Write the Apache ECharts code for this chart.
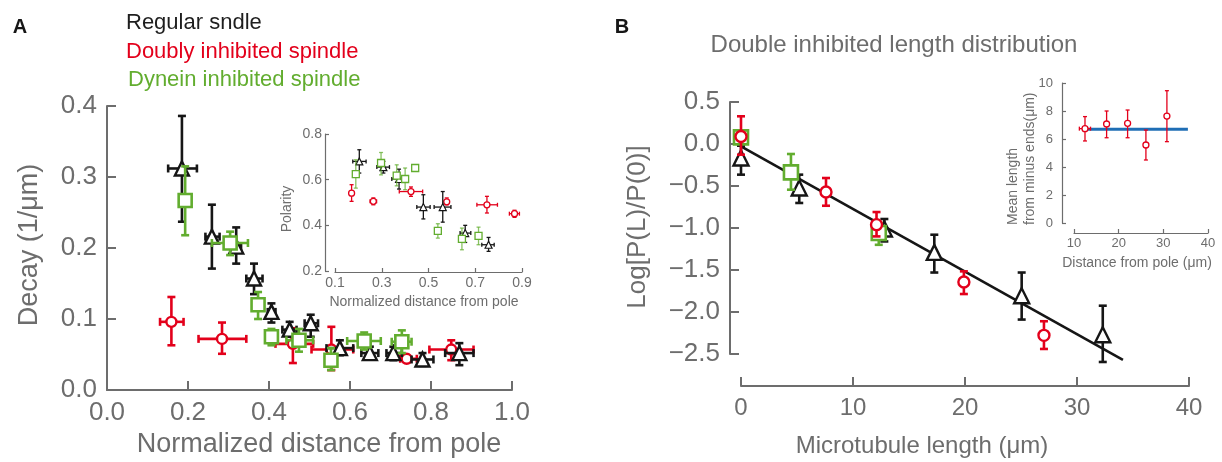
<!DOCTYPE html>
<html>
<head>
<meta charset="utf-8">
<script src="https://cdn.jsdelivr.net/npm/echarts@6/dist/echarts.min.js"></script>
<style>html,body{margin:0;padding:0;background:#fff}#c{width:1222px;height:462px}</style>
</head>
<body>
<div id="c"></div>
<script>
// ---------- Panel A (main): Decay vs normalized distance ----------
const aRegX   = [0.185,0.259,0.319,0.363,0.406,0.451,0.503,0.575,0.649,0.707,0.779,0.870];
const aRegY   = [0.312,0.216,0.202,0.157,0.110,0.085,0.094,0.059,0.052,0.052,0.043,0.052];
const aRegYLo = [0.237,0.171,0.178,0.135,0.095,0.075,0.075,0.049,0.045,0.042,0.034,0.035];
const aRegYHi = [0.386,0.261,0.229,0.178,0.122,0.096,0.106,0.070,0.061,0.061,0.052,0.066];
const aRegXLo = [0.151,0.243,0.306,0.344,0.397,0.433,0.488,0.542,0.628,0.690,0.752,0.835];
const aRegXHi = [0.222,0.278,0.331,0.384,0.416,0.468,0.521,0.608,0.670,0.728,0.806,0.905];

const aDynX   = [0.193,0.304,0.373,0.406,0.474,0.553,0.635,0.728];
const aDynY   = [0.267,0.207,0.120,0.075,0.070,0.042,0.069,0.068];
const aDynYLo = [0.218,0.190,0.100,0.063,0.054,0.028,0.057,0.052];
const aDynYHi = [0.315,0.223,0.138,0.086,0.086,0.059,0.081,0.084];
const aDynXLo = [0.193,0.259,0.373,0.406,0.443,0.553,0.593,0.703];
const aDynXHi = [0.193,0.348,0.373,0.406,0.509,0.553,0.676,0.752];

const aDblX   = [0.159,0.284,0.459,0.554,0.740,0.850];
const aDblY   = [0.096,0.072,0.065,0.057,0.044,0.057];
const aDblYLo = [0.063,0.051,0.038,0.028,0.044,0.042];
const aDblYHi = [0.131,0.095,0.087,0.089,0.044,0.070];
const aDblXLo = [0.131,0.226,0.416,0.505,0.724,0.796];
const aDblXHi = [0.189,0.344,0.509,0.608,0.765,0.905];

// ---------- Panel A (inset): Polarity ----------
const iRegX   = [0.204,0.307,0.374,0.478,0.561,0.657,0.757];
const iRegY   = [0.680,0.655,0.603,0.480,0.480,0.366,0.315];
const iRegYLo = [0.629,0.629,0.559,0.428,0.414,0.325,0.286];
const iRegYHi = [0.731,0.680,0.646,0.534,0.548,0.400,0.347];
const iRegXLo = [0.176,0.279,0.343,0.450,0.524,0.635,0.728];
const iRegXHi = [0.233,0.333,0.411,0.507,0.596,0.681,0.781];

const iDynX   = [0.189,0.297,0.364,0.400,0.443,0.540,0.643,0.714];
const iDynY   = [0.624,0.673,0.618,0.603,0.651,0.376,0.341,0.354];
const iDynYLo = [0.563,0.621,0.573,0.556,0.640,0.344,0.293,0.315];
const iDynYHi = [0.687,0.719,0.665,0.651,0.660,0.407,0.388,0.392];

const iDblX   = [0.171,0.264,0.425,0.578,0.750,0.868];
const iDblY   = [0.541,0.505,0.548,0.503,0.490,0.451];
const iDblYLo = [0.505,0.490,0.527,0.490,0.454,0.435];
const iDblYHi = [0.578,0.520,0.568,0.520,0.527,0.466];
const iDblXLo = [0.171,0.250,0.375,0.570,0.707,0.846];
const iDblXHi = [0.171,0.278,0.475,0.586,0.795,0.889];
const iXTicks = [0.1,0.3,0.5,0.7,0.9];

// ---------- Panel B (main): Log[P(L)/P(0)] vs length ----------
const bRegX   = [0,5.2,12.8,17.26,25.06,32.3];
const bRegY   = [-0.167,-0.524,-1.012,-1.29,-1.806,-2.27];
const bRegYLo = [-0.365,-0.702,-1.16,-1.53,-2.09,-2.595];
const bRegYHi = [-0.02,-0.365,-0.893,-1.08,-1.53,-1.925];

const bDynX   = [0,4.46,12.3];
const bDynY   = [0.079,-0.338,-1.06];
const bDynYLo = [0.02,-0.544,-1.2];
const bDynYHi = [0.12,-0.119,-0.94];

const bDblX   = [0,7.59,12.1,19.9,27.05];
const bDblY   = [0.09,-0.571,-0.96,-1.643,-2.278];
const bDblYLo = [-0.127,-0.735,-1.1,-1.786,-2.44];
const bDblYHi = [0.33,-0.405,-0.81,-1.516,-2.11];

const bFitX = [0,34.1];
const bFitY = [-0.029,-2.57];

// ---------- Panel B (inset): mean length vs distance ----------
const jDblX   = [12.46,17.3,22.0,26.1,30.8];
const jDblY   = [6.74,7.07,7.12,5.57,7.64];
const jDblYLo = [5.86,6.09,6.09,4.5,5.81];
const jDblYHi = [7.6,8.0,8.07,6.64,9.45];
const jDblXLo = [11.2,17.3,22.0,26.1,30.8];
const jDblXHi = [13.7,17.3,22.0,26.1,30.8];
const jMeanX = [12.5,35.5];
const jMeanY = [6.7,6.7];

// ---------- styling ----------
const FONT = "'Liberation Sans', Arial, Helvetica, sans-serif";
const GRAY = '#6d6d6d';
const RED = '#e3001b';
const GREEN = '#62ad2f';
const BLACK = '#161616';
const BLUE = '#1f6eb5';

function rows(x, y, xlo, xhi, ylo, yhi) {
  return x.map((v, i) => [v, y[i], xlo ? xlo[i] : v, xhi ? xhi[i] : v, ylo ? ylo[i] : y[i], yhi ? yhi[i] : y[i]]);
}
function pts(x, y) { return x.map((v, i) => [v, y[i]]); }

function errSeries(data, color, lw, cap, ax, z, opacity) {
  return {
    type: 'custom', xAxisIndex: ax, yAxisIndex: ax, z: z, silent: true, clip: false,
    data: data, encode: { x: 0, y: 1 },
    renderItem: function (params, api) {
      const x = api.value(0), y = api.value(1);
      const xl = api.value(2), xh = api.value(3), yl = api.value(4), yh = api.value(5);
      const st = { stroke: color, lineWidth: lw, opacity: opacity == null ? 1 : opacity };
      const ch = [];
      const L = (x1, y1, x2, y2) => ch.push({ type: 'line', shape: { x1, y1, x2, y2 }, style: st });
      if (yl !== yh) {
        const a = api.coord([x, yl]), b = api.coord([x, yh]);
        L(a[0], a[1], b[0], b[1]);
        L(a[0] - cap, a[1], a[0] + cap, a[1]);
        L(b[0] - cap, b[1], b[0] + cap, b[1]);
      }
      if (xl !== xh) {
        const a = api.coord([xl, y]), b = api.coord([xh, y]);
        L(a[0], a[1], b[0], b[1]);
        L(a[0], a[1] - cap, a[0], a[1] + cap);
        L(b[0], b[1] - cap, b[0], b[1] + cap);
      }
      return { type: 'group', children: ch };
    }
  };
}
function markSeries(data, symbol, size, color, bw, ax, z) {
  return {
    type: 'scatter', xAxisIndex: ax, yAxisIndex: ax, z: z, silent: true, clip: false,
    symbol: symbol, symbolSize: size, data: data,
    itemStyle: { color: '#ffffff', borderColor: color, borderWidth: bw, opacity: 1 }
  };
}
function fmt1(v) {
  if (Math.abs(v) < 1e-9) return '0.0';
  return v.toFixed(1).replace('-', '\u2212');
}
function axisBase(fs, lw, tl, margin) {
  return {
    type: 'value',
    splitLine: { show: false },
    axisLine: { show: true, onZero: false, lineStyle: { color: GRAY, width: lw } },
    axisTick: { show: true, inside: true, length: tl, lineStyle: { color: GRAY, width: lw } },
    axisLabel: { color: GRAY, fontSize: fs, fontFamily: FONT, margin: margin }
  };
}
function merge(a, b) {
  const o = Object.assign({}, a, b);
  ['axisLine', 'axisTick', 'axisLabel'].forEach(k => { if (b[k]) o[k] = Object.assign({}, a[k], b[k]); });
  return o;
}

const xAxes = [
  merge(axisBase(26, 2, 9, 10), { gridIndex: 0, min: 0, max: 1, interval: 0.2, axisLabel: { formatter: fmt1 } }),
  merge(axisBase(14, 1.2, 4, 4), { gridIndex: 1, min: 0.1, max: 0.9, offset: 1,
    axisTick: { customValues: iXTicks }, axisLabel: { customValues: iXTicks, formatter: fmt1 } }),
  merge(axisBase(24, 2, 9, 10), { gridIndex: 2, min: 0, max: 40, interval: 10, offset: 32 }),
  merge(axisBase(13, 1.2, 4, 4), { gridIndex: 3, min: 10, max: 40, interval: 10, offset: 10 })
];
const yAxes = [
  merge(axisBase(26, 2, 9, 10), { gridIndex: 0, min: 0, max: 0.4, interval: 0.1, axisLabel: { formatter: fmt1 } }),
  merge(axisBase(14, 1.2, 4, 3), { gridIndex: 1, min: 0.2, max: 0.8, interval: 0.2, offset: 10, axisLabel: { formatter: fmt1 } }),
  merge(axisBase(26, 2, 9, 10), { gridIndex: 2, min: -2.5, max: 0.5, interval: 0.5, offset: 11, axisLabel: { formatter: fmt1 } }),
  merge(axisBase(13, 1.2, 4, 9), { gridIndex: 3, min: 0, max: 10, interval: 2, offset: 12 })
];

function txt(x, y, text, size, color, opts) {
  opts = opts || {};
  return {
    type: 'text', x: x, y: y, rotation: opts.rot || 0, silent: true,
    style: {
      text: text, fill: color, fontSize: size, fontFamily: FONT,
      fontWeight: opts.bold ? 'bold' : 'normal',
      align: opts.align || 'center', verticalAlign: opts.va || 'middle',
      lineHeight: opts.lh || undefined
    }
  };
}

const series = [
  // A main: red, black, green
  errSeries(rows(aDblX, aDblY, aDblXLo, aDblXHi, aDblYLo, aDblYHi), RED, 2.6, 4, 0, 2),
  markSeries(pts(aDblX, aDblY), 'circle', 10, RED, 2.4, 0, 3),
  errSeries(rows(aRegX, aRegY, aRegXLo, aRegXHi, aRegYLo, aRegYHi), BLACK, 2.6, 4, 0, 4),
  markSeries(pts(aRegX, aRegY), 'triangle', 14, BLACK, 2.4, 0, 5),
  errSeries(rows(aDynX, aDynY, aDynXLo, aDynXHi, aDynYLo, aDynYHi), GREEN, 2.6, 4, 0, 6),
  markSeries(pts(aDynX, aDynY), 'rect', 13, GREEN, 2.6, 0, 7),
  // A inset
  errSeries(rows(iDblX, iDblY, iDblXLo, iDblXHi, iDblYLo, iDblYHi), RED, 1.3, 2, 1, 2),
  markSeries(pts(iDblX, iDblY), 'circle', 6, RED, 1.3, 1, 3),
  errSeries(rows(iRegX, iRegY, iRegXLo, iRegXHi, iRegYLo, iRegYHi), BLACK, 1.3, 2, 1, 4),
  markSeries(pts(iRegX, iRegY), 'triangle', 7, BLACK, 1.2, 1, 5),
  errSeries(rows(iDynX, iDynY, null, null, iDynYLo, iDynYHi), GREEN, 1.3, 2, 1, 6, 0.75),
  markSeries(pts(iDynX, iDynY), 'rect', 7, GREEN, 1.3, 1, 7),
  // B main: fit line, black, green, red
  { type: 'line', xAxisIndex: 2, yAxisIndex: 2, z: 1, silent: true, symbol: 'none', clip: false,
    data: pts(bFitX, bFitY), lineStyle: { color: BLACK, width: 2.6 } },
  errSeries(rows(bRegX, bRegY, null, null, bRegYLo, bRegYHi), BLACK, 2.6, 4, 2, 2),
  markSeries(pts(bRegX, bRegY), 'triangle', 15, BLACK, 2.4, 2, 3),
  errSeries(rows(bDynX, bDynY, null, null, bDynYLo, bDynYHi), GREEN, 2.6, 4, 2, 4),
  markSeries(pts(bDynX, bDynY), 'rect', 14, GREEN, 2.6, 2, 5),
  errSeries(rows(bDblX, bDblY, null, null, bDblYLo, bDblYHi), RED, 2.6, 4, 2, 6),
  markSeries(pts(bDblX, bDblY), 'circle', 11, RED, 2.4, 2, 7),
  // B inset
  { type: 'line', xAxisIndex: 3, yAxisIndex: 3, z: 1, silent: true, symbol: 'none', clip: false,
    data: pts(jMeanX, jMeanY), lineStyle: { color: BLUE, width: 3 } },
  errSeries(rows(jDblX, jDblY, jDblXLo, jDblXHi, jDblYLo, jDblYHi), RED, 1.3, 2, 3, 2),
  markSeries(pts(jDblX, jDblY), 'circle', 6, RED, 1.3, 3, 3)
];

const graphics = [
  txt(20, 27, 'A', 20, BLACK, { bold: true }),
  txt(622, 27, 'B', 20, BLACK, { bold: true }),
  txt(126, 23, 'Regular sndle', 22, '#1e1e1e', { align: 'left' }),
  txt(126, 52, 'Doubly inhibited spindle', 22, RED, { align: 'left' }),
  txt(128, 80, 'Dynein inhibited spindle', 22, GREEN, { align: 'left' }),
  txt(894, 45, 'Double inhibited length distribution', 24, GRAY),
  txt(30, 245, 'Decay (1/\u03bcm)', 27, GRAY, { rot: Math.PI / 2 }),
  txt(319, 445, 'Normalized distance from pole', 27, GRAY),
  txt(287, 209, 'Polarity', 14, GRAY, { rot: Math.PI / 2 }),
  txt(424, 302, 'Normalized distance from pole', 14, GRAY),
  txt(638, 227, 'Log[P(L)/P(0)]', 26, GRAY, { rot: Math.PI / 2 }),
  txt(922, 446, 'Microtubule length (\u03bcm)', 24, GRAY),
  txt(1137, 263, 'Distance from pole (\u03bcm)', 14, GRAY),
  txt(1022, 225, 'Mean length\nfrom minus ends(\u03bcm)', 14, GRAY, { rot: Math.PI / 2, align: 'left', lh: 17 })
];

const chart = echarts.init(document.getElementById('c'), null, { renderer: 'canvas' });
chart.setOption({
  backgroundColor: '#ffffff',
  animation: false,
  grid: [
    { left: 107, top: 106, width: 405, height: 284 },
    { left: 335, top: 134, width: 187, height: 137 },
    { left: 741, top: 102, width: 448, height: 252 },
    { left: 1074, top: 83, width: 134, height: 140 }
  ],
  xAxis: xAxes,
  yAxis: yAxes,
  series: series,
  graphic: graphics
});
</script>
</body>
</html>
